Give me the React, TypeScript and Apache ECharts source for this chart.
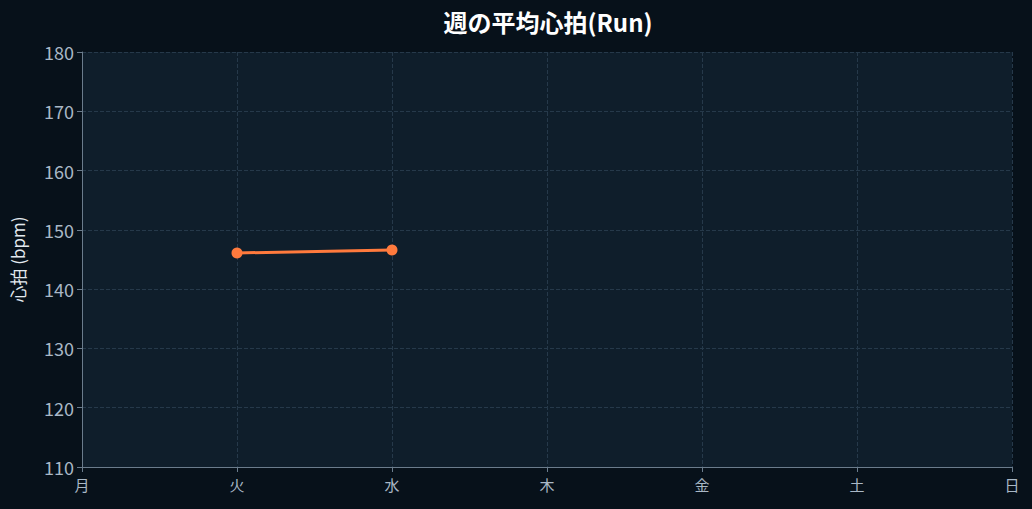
import React, { useEffect, useRef } from "react";
import * as echarts from "echarts";

const days = ["月", "火", "水", "木", "金", "土", "日"];
const heartRate: (number | null)[] = [null, 146.1, 146.6, null, null, null, null];
const titleText = "週の平均心拍(Run)";
const yAxisName = "心拍 (bpm)";

export default function App() {
  const ref = useRef<HTMLDivElement>(null);
  useEffect(() => {
    if (!ref.current) return;
    const chart = echarts.init(ref.current, undefined, { renderer: "svg" });
    const font = "'Noto Sans CJK JP', 'Noto Sans', sans-serif";
    chart.setOption({
      animation: false,
      backgroundColor: "#07111a",
      textStyle: { fontFamily: font },
      title: {
        text: titleText,
        left: 543,
        textAlign: "center",
        top: 4,
        textStyle: { color: "#ffffff", fontSize: 24, fontWeight: "bold", fontFamily: font },
      },
      grid: {
        left: 82,
        right: 20,
        top: 52,
        bottom: 42,
        show: true,
        backgroundColor: "#0f1e2b",
        borderWidth: 0,
      },
      xAxis: {
        type: "category",
        data: days,
        boundaryGap: false,
        axisLine: { lineStyle: { color: "#6b7c8c" } },
        axisTick: { alignWithLabel: true, lineStyle: { color: "#6b7c8c" } },
        axisLabel: { color: "#a9b8c6", fontSize: 15, margin: 10 },
        splitLine: { show: true, lineStyle: { color: "#26394a", type: "dashed" } },
      },
      yAxis: {
        type: "value",
        min: 110,
        max: 180,
        interval: 10,
        name: yAxisName,
        nameLocation: "middle",
        nameGap: 56,
        nameTextStyle: { color: "#e3eaf0", fontSize: 17 },
        axisLine: { show: true, lineStyle: { color: "#6b7c8c" } },
        axisTick: { show: true, lineStyle: { color: "#6b7c8c" } },
        axisLabel: { color: "#a9b8c6", fontSize: 18, margin: 8 },
        splitLine: { show: true, lineStyle: { color: "#26394a", type: "dashed" } },
      },
      series: [
        {
          type: "line",
          data: heartRate,
          connectNulls: false,
          symbol: "circle",
          symbolSize: 11,
          itemStyle: { color: "#ff7a3d" },
          lineStyle: { color: "#ff7a3d", width: 3 },
        },
      ],
    });
    return () => chart.dispose();
  }, []);
  return (
    <div
      ref={ref}
      style={{ position: "fixed", left: 0, top: 0, width: 1032, height: 509 }}
    />
  );
}
